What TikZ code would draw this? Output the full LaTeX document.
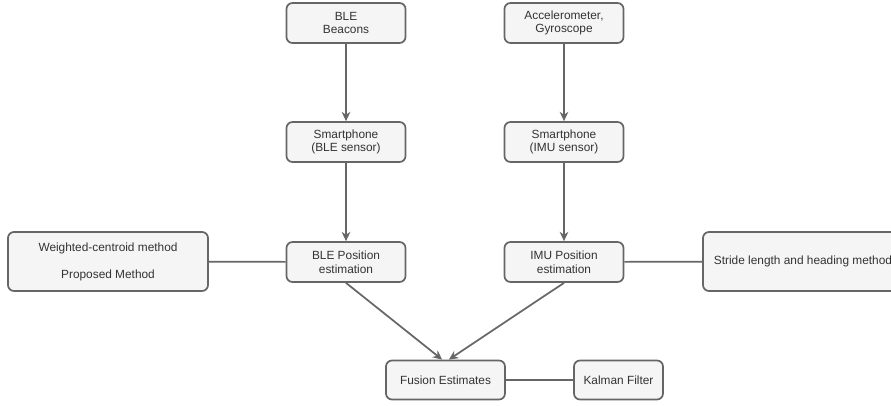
\documentclass[tikz,border=0pt]{standalone}
\usepackage{fontspec}
\setmainfont{Liberation Sans}
\usetikzlibrary{arrows.meta}
\definecolor{boxfill}{HTML}{F5F5F5}
\definecolor{boxline}{HTML}{666666}
\definecolor{boxtext}{HTML}{333333}
\begin{document}
\begin{tikzpicture}[x=0.75pt,y=-0.75pt,>={Stealth[length=7pt,width=6.5pt]},
  blk/.style={draw=boxline,fill=boxfill,line width=1.3pt,rounded corners=4.5pt,
    text=boxtext,align=center,inner sep=0pt,font=\fontsize{8.9}{10.2}\selectfont,
    minimum width=89.25pt,minimum height=30pt},
  wide/.style={blk,minimum width=150pt,minimum height=44.25pt},
  link/.style={draw=boxline,line width=1.3pt}]
 \useasboundingbox (0,0) rectangle (891,406);
 \clip (0,0) rectangle (891,406);
 % sources
 \node[blk] (beacons) at (346,23) {BLE\\Beacons};
 \node[blk] (imu) at (564,23) {Accelerometer,\\Gyroscope};
 % phones
 \node[blk] (phoneble) at (346,142) {Smartphone\\(BLE sensor)};
 \node[blk] (phoneimu) at (564,142) {Smartphone\\(IMU sensor)};
 % position estimates
 \node[blk] (posble) at (346,262) {BLE Position\\estimation};
 \node[blk] (posimu) at (564,262) {IMU Position\\estimation};
 \node[wide] (wcm) at (108,261.5) {Weighted-centroid method\\[10pt]Proposed Method};
 \node[wide] (slh) at (803,261.5) {Stride length and heading method};
 % fusion
 \node[blk,minimum height=29.25pt] (fusion) at (445.5,380) {Fusion Estimates};
 \node[blk,minimum width=66.75pt,minimum height=29.25pt] (kalman) at (618.5,380) {Kalman Filter};
 \coordinate (fusl) at ([xshift=-2.5pt]fusion.north);
 \coordinate (fusr) at ([xshift=2.5pt]fusion.north);
 \draw[link,->] (beacons) -- (phoneble);
 \draw[link,->] (imu) -- (phoneimu);
 \draw[link,->] (phoneble) -- (posble);
 \draw[link,->] (phoneimu) -- (posimu);
 \draw[link] (wcm) -- (posble);
 \draw[link] (posimu) -- (slh);
 \draw[link,->] (posble.south) -- (fusl);
 \draw[link,->] (posimu.south) -- (fusr);
 \draw[link] (fusion) -- (kalman);
\end{tikzpicture}
\end{document}
